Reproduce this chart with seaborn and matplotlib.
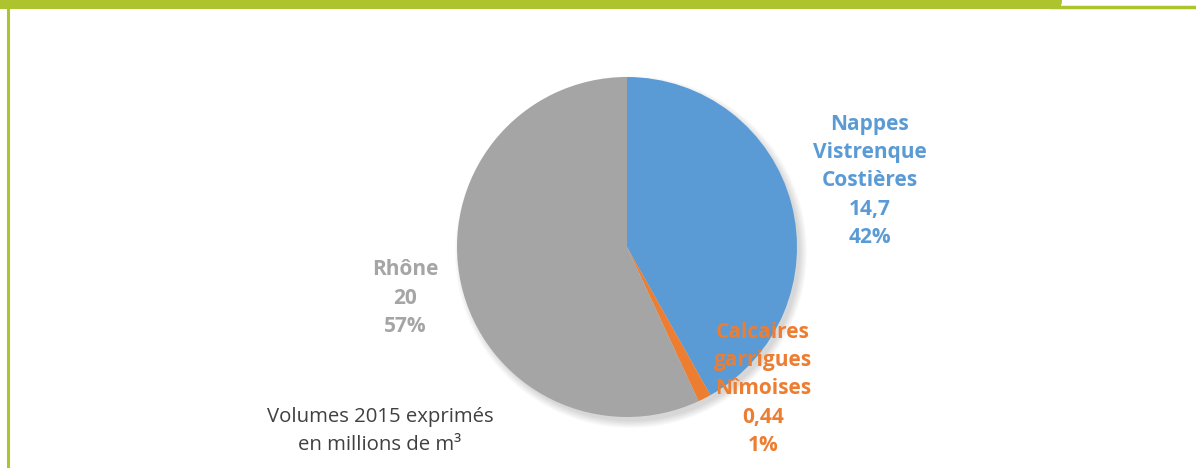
import matplotlib
matplotlib.use("Agg")
import matplotlib.pyplot as plt
import seaborn as sns
from matplotlib.patches import FancyBboxPatch, Circle

# Data
categories = ["Nappes\nVistrenque\nCostières", "Calcaires\ngarrigues\nNîmoises", "Rhône"]
volumes = [14.7, 0.44, 20]
value_labels = ["14,7", "0,44", "20"]
pct_labels = ["42%", "1%", "57%"]
colors = ["#5B9BD5", "#ED7D31", "#A5A5A5"]

sns.set_theme(style="white")
plt.rcParams['font.family'] = ['Open Sans', 'DejaVu Sans']

W, H = 1196, 468
fig = plt.figure(figsize=(W / 100, H / 100), dpi=100)
ax = fig.add_axes([0, 0, 1, 1])

cx, cy, r = 627, H - 247, 170

# soft shadow
for i in range(8):
    ax.add_patch(Circle((cx + 4, cy - 5), r + 6 - i, color="#000000", alpha=0.02, lw=0, zorder=1))

wedges, _ = ax.pie(volumes, colors=colors, startangle=90, counterclock=False,
                   center=(cx, cy), radius=r, frame=True,
                   wedgeprops=dict(linewidth=0, zorder=2))
ax.set_xlim(0, W)
ax.set_ylim(0, H)
ax.set_aspect("equal")
ax.axis("off")

label_pos = [(870, H - 181), (763, H - 389), (405, H - 298)]
for cat, v, p, c, (lx, ly) in zip(categories, value_labels, pct_labels, colors, label_pos):
    ax.text(lx, ly, f"{cat}\n{v}\n{p}", color=c, ha="center", va="center",
            fontsize=15, fontweight="bold", linespacing=1.46, zorder=5)

ax.text(380, H - 431, "Volumes 2015 exprimés\nen millions de m³", color="#404040",
        ha="center", va="center", fontsize=14.7, linespacing=1.5, zorder=5)

# green frame
gc = "#AEC42F"
fig.patches.append(FancyBboxPatch((-20, H - 9), 1082, 30, boxstyle="round,pad=0,rounding_size=8",
                                  transform=None, color=gc, lw=0, zorder=10))
fig.lines.append(plt.Line2D([1050, W], [H - 7, H - 7], transform=None, color=gc, lw=2.5, zorder=10))
fig.lines.append(plt.Line2D([7.5, 7.5], [0, H - 6], transform=None, color=gc, lw=2.2, zorder=10))

fig.savefig("out.png", dpi=100)
